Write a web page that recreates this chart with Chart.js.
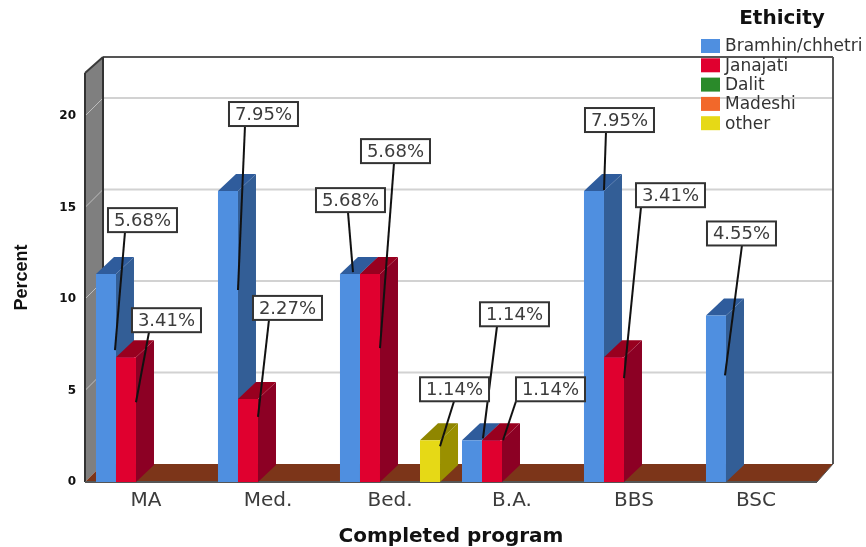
<!DOCTYPE html>
<html>
<head>
<meta charset="utf-8">
<title>Completed program by ethnicity</title>
<script src="https://cdn.jsdelivr.net/npm/chart.js@4"></script>
<style>
    html, body { margin: 0; padding: 0; background: #fff; }
    canvas { display: block; }
</style>
</head>
<body>
<canvas id="myChart" width="866" height="547"></canvas>
<script>
const categories = ['MA', 'Med.', 'Bed.', 'B.A.', 'BBS', 'BSC'];
const seriesNames = ['Bramhin/chhetri', 'Janajati', 'Dalit', 'Madeshi', 'other'];

// share of all respondents, as printed on the callouts
const bramhin = [5.68, 7.95, 5.68, 1.14, 7.95, 4.55];
const janajati = [3.41, 2.27, 5.68, 1.14, 3.41, null];
const dalit = [null, null, null, null, null, null];
const madeshi = [null, null, null, null, null, null];
const other = [null, null, 1.14, null, null, null];

// the axis is printed on a doubled percent scale, so each printed tick sits at half its number
const yTickValues = [0, 2.5, 5, 7.5, 10];
const yTickLabels = ['0', '5', '10', '15', '20'];
const yAxisMax = 11.175;

const frontColors = ['#4f8fe0', '#e0002f', '#2a8a2a', '#f2682a', '#e6d916'];
const sideColors = ['#335e96', '#8c0024', '#1b5c1b', '#a64518', '#9a9000'];
const topColors = ['#2f5c9c', '#98001f', '#1b5c1b', '#a64518', '#8f8600'];

const wallDepth = 18;
const rightWallDepth = 16;
const barDepthX = 18;
const barDepthY = 17;

// series, category, box offset from bar, leader start along box, leader tip offset from bar
const callouts = [
    [0, 0, 2, -66, 17, 9, 76],
    [1, 0, 6, -49, 17, 10, 45],
    [0, 1, 1, -89, 16, 10, 99],
    [1, 1, 5, -103, 16, 10, 18],
    [0, 2, -34, -86, 32, 3, -2],
    [1, 2, -9, -135, 33, 10, 74],
    [4, 2, -10, -63, 34, 10, 6],
    [0, 3, 8, -138, 17, 11, -2],
    [1, 3, 24, -63, 0, 11, 0],
    [0, 4, -9, -83, 21, 10, -1],
    [1, 4, 22, -174, 5, 10, 21],
    [0, 5, -9, -94, 35, 9, 60]
];

function fillPoly(ctx, points, color) {
    ctx.beginPath();
    ctx.moveTo(points[0][0], points[0][1]);
    for (let i = 1; i < points.length; i++) {
        ctx.lineTo(points[i][0], points[i][1]);
    }
    ctx.closePath();
    ctx.fillStyle = color;
    ctx.fill();
}

function strokeLine(ctx, x1, y1, x2, y2, color, width) {
    ctx.beginPath();
    ctx.moveTo(x1, y1);
    ctx.lineTo(x2, y2);
    ctx.strokeStyle = color;
    ctx.lineWidth = width;
    ctx.stroke();
}

// back wall, side wall and floor behind the bars
const roomPlugin = {
    id: 'room',
    beforeDatasetsDraw(chart) {
        const ctx = chart.ctx;
        const area = chart.chartArea;
        const yScale = chart.scales.y;
        const d = wallDepth;
        const backTop = area.top - 16;
        const backRight = area.right + rightWallDepth;
        ctx.save();
        fillPoly(ctx, [[area.left, area.top], [area.left + d, backTop], [area.left + d, area.bottom - d], [area.left, area.bottom]], '#7f7f7f');
        fillPoly(ctx, [[area.left, area.bottom], [area.left + d, area.bottom - d], [backRight, area.bottom - d], [area.right, area.bottom]], '#7c3519');

        yTickValues.forEach(function(v) {
            if (v === 0) return;
            const y = yScale.getPixelForValue(v);
            strokeLine(ctx, area.left, y, area.left + d, y - d, '#bdbdbd', 1);
            strokeLine(ctx, area.left + d, y - d, backRight, y - d, '#d2d2d2', 2);
        });

        strokeLine(ctx, area.left, area.top, area.left + d, backTop, '#3a3a3a', 2);
        strokeLine(ctx, area.left + d, backTop, backRight, backTop, '#555', 2);
        strokeLine(ctx, area.left + d, backTop, area.left + d, area.bottom - d, '#333', 2);
        strokeLine(ctx, backRight, backTop, backRight, area.bottom - d, '#555', 2);
        strokeLine(ctx, area.left, area.top, area.left, area.bottom, '#333', 2);
        strokeLine(ctx, area.left, area.bottom, area.right, area.bottom, '#555', 2);
        strokeLine(ctx, area.right, area.bottom, backRight, area.bottom - d, '#555', 1);

        // side and top faces; the fronts come from the bar elements afterwards
        for (let c = 0; c < categories.length; c++) {
            chart.data.datasets.forEach(function(ds, s) {
                if (ds.data[c] === null) return;
                const bar = chart.getDatasetMeta(s).data[c];
                const half = bar.width / 2;
                const l = bar.x - half;
                const r = bar.x + half;
                fillPoly(ctx, [[r, bar.y], [r + barDepthX, bar.y - barDepthY], [r + barDepthX, bar.base - barDepthY], [r, bar.base]], sideColors[s]);
                fillPoly(ctx, [[l, bar.y], [l + barDepthX, bar.y - barDepthY], [r + barDepthX, bar.y - barDepthY], [r, bar.y]], topColors[s]);
            });
        }
        ctx.restore();
    }
};

// boxed percent labels with their leader lines
const calloutPlugin = {
    id: 'callouts',
    afterDatasetsDraw(chart) {
        const ctx = chart.ctx;
        const boxW = 69;
        const boxH = 24;
        ctx.save();
        callouts.forEach(function(c) {
            const bar = chart.getDatasetMeta(c[0]).data[c[1]];
            const boxX = bar.x + c[2];
            const boxY = bar.y + c[3];
            strokeLine(ctx, boxX + c[4], boxY + boxH, bar.x + c[5], bar.y + c[6], '#111', 2);
        });
        callouts.forEach(function(c) {
            const bar = chart.getDatasetMeta(c[0]).data[c[1]];
            const boxX = bar.x + c[2];
            const boxY = bar.y + c[3];
            ctx.fillStyle = '#fff';
            ctx.fillRect(boxX, boxY, boxW, boxH);
            ctx.strokeStyle = '#333';
            ctx.lineWidth = 2;
            ctx.strokeRect(boxX, boxY, boxW, boxH);
            ctx.fillStyle = '#3c3c3c';
            ctx.font = '18px "DejaVu Sans"';
            ctx.textAlign = 'center';
            ctx.textBaseline = 'middle';
            ctx.fillText(chart.data.datasets[c[0]].data[c[1]].toFixed(2) + '%', boxX + boxW / 2, boxY + boxH / 2 + 1);
        });
        ctx.restore();
    }
};

// legend sits over the top right corner of the room
const legendPlugin = {
    id: 'ethnicityLegend',
    afterDraw(chart) {
        const ctx = chart.ctx;
        ctx.save();
        ctx.fillStyle = '#111';
        ctx.font = 'bold 20px "DejaVu Sans"';
        ctx.textAlign = 'center';
        ctx.textBaseline = 'middle';
        ctx.fillText('Ethicity', 782, 19);
        ctx.font = '17px "DejaVu Sans"';
        ctx.textAlign = 'left';
        seriesNames.forEach(function(name, i) {
            const y = 39 + i * 19.3;
            ctx.fillStyle = frontColors[i];
            ctx.fillRect(701, y, 19, 14);
            ctx.fillStyle = '#333';
            ctx.fillText(name, 725, y + 8);
        });
        ctx.restore();
    }
};

function myLoadFunction() {
    const ctx = document.getElementById('myChart').getContext('2d');
    const seriesValues = [bramhin, janajati, dalit, madeshi, other];
    var myChartConfig = {
        type: 'bar',
        data: {
            labels: categories,
            datasets: seriesNames.map(function(name, i) {
                return {
                    label: name,
                    data: seriesValues[i],
                    backgroundColor: frontColors[i],
                    categoryPercentage: 0.82,
                    barPercentage: 1
                };
            })
        },
        options: {
            responsive: false,
            animation: false,
            layout: {
                padding: { left: 0, top: 73, right: 49, bottom: 0 }
            },
            plugins: {
                legend: { display: false },
                tooltip: { enabled: false }
            },
            scales: {
                x: {
                    afterFit(scale) { scale.height = 65; },
                    grid: { display: false, drawTicks: false },
                    border: { display: false },
                    ticks: {
                        padding: 7,
                        color: '#3c3c3c',
                        font: { family: '"DejaVu Sans"', size: 20 }
                    },
                    title: {
                        display: true,
                        text: 'Completed program',
                        color: '#111',
                        padding: { top: 0, bottom: 0 },
                        font: { family: '"DejaVu Sans"', size: 20, weight: 'bold', lineHeight: 1 }
                    }
                },
                y: {
                    min: 0,
                    max: yAxisMax,
                    afterFit(scale) { scale.width = 85; },
                    grid: { display: false, drawTicks: false },
                    border: { display: false },
                    ticks: {
                        stepSize: 2.5,
                        includeBounds: false,
                        padding: 9,
                        color: '#111',
                        font: { family: '"DejaVu Sans"', size: 12, weight: 'bold' },
                        callback: function(value) {
                            return yTickLabels[yTickValues.indexOf(value)];
                        }
                    },
                    title: {
                        display: true,
                        text: 'Percent',
                        color: '#111',
                        padding: { top: 11, bottom: 0 },
                        font: { family: '"Liberation Sans"', size: 18, weight: 'bold' }
                    }
                }
            }
        },
        plugins: [roomPlugin, calloutPlugin, legendPlugin]
    };
    const myChart = new Chart(ctx, myChartConfig);
}

document.addEventListener('DOMContentLoaded', myLoadFunction);
</script>
</body>
</html>
